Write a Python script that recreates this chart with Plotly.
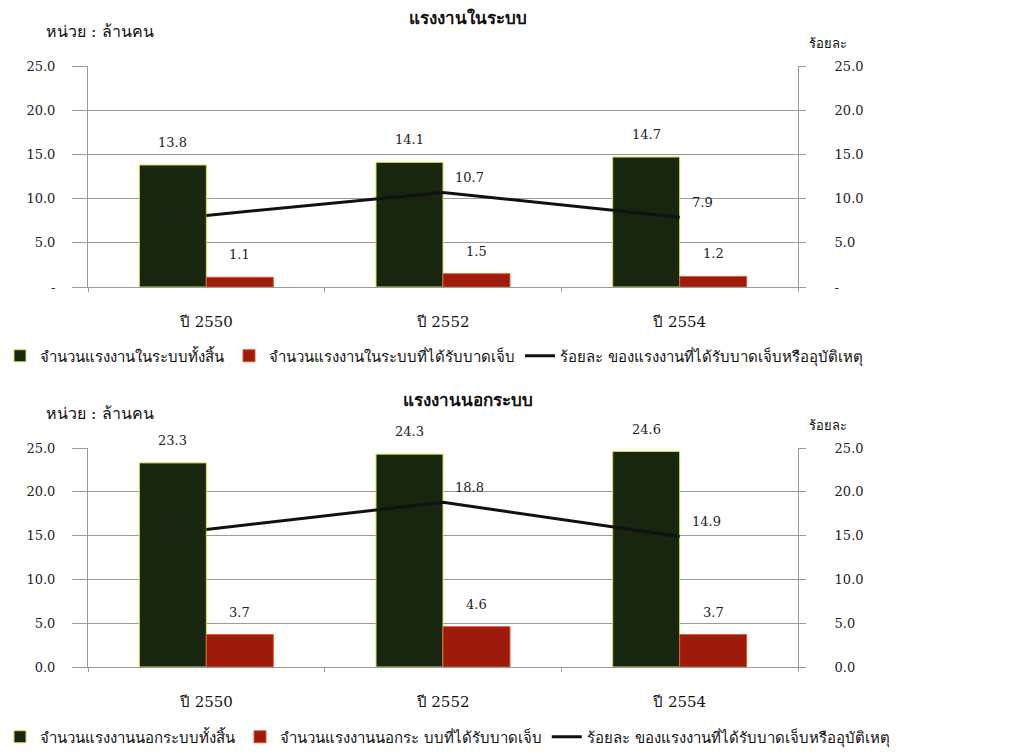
import plotly.graph_objects as go
from plotly.subplots import make_subplots

categories = ["ปี 2550", "ปี 2552", "ปี 2554"]

# Top chart: formal workers
top_title = "แรงงานในระบบ"
top_total = [13.8, 14.1, 14.7]
top_injured = [1.1, 1.5, 1.2]
top_pct = [8.1, 10.7, 7.9]
top_names = ["จำนวนแรงงานในระบบทั้งสิ้น", "จำนวนแรงงานในระบบที่ได้รับบาดเจ็บ",
             "ร้อยละ ของแรงงานที่ได้รับบาดเจ็บหรืออุบัติเหตุ"]
top_ticktext = ["-", "5.0", "10.0", "15.0", "20.0", "25.0"]

# Bottom chart: informal workers
bot_title = "แรงงานนอกระบบ"
bot_total = [23.3, 24.3, 24.6]
bot_injured = [3.7, 4.6, 3.7]
bot_pct = [15.7, 18.8, 14.9]
bot_names = ["จำนวนแรงงานนอกระบบทั้งสิ้น", "จำนวนแรงงานนอกระ บบที่ได้รับบาดเจ็บ",
             "ร้อยละ ของแรงงานที่ได้รับบาดเจ็บหรืออุบัติเหตุ"]
bot_ticktext = ["0.0", "5.0", "10.0", "15.0", "20.0", "25.0"]

tickvals = [0, 5, 10, 15, 20, 25]
unit_left = "หน่วย : ล้านคน"
unit_right = "ร้อยละ"

FONT = "DejaVu Serif, Liberation Serif, serif"
GREEN = "#18250f"
GREEN_EDGE = "#cfe04a"
RED = "#9e1a0b"
RED_EDGE = "#d9582c"
GRID = "#9a9a9a"
BARGAP = 0.434

fig = make_subplots(rows=2, cols=1, specs=[[{"secondary_y": True}], [{"secondary_y": True}]])

def add_chart(row, total, injured, pct, names, legend):
    fig.add_trace(go.Bar(x=categories, y=total, name=names[0], marker_color=GREEN,
                         marker_line=dict(color=GREEN_EDGE, width=1), legend=legend),
                  row=row, col=1, secondary_y=False)
    fig.add_trace(go.Bar(x=categories, y=injured, name=names[1], marker_color=RED,
                         marker_line=dict(color=RED_EDGE, width=1), legend=legend),
                  row=row, col=1, secondary_y=False)
    fig.add_trace(go.Scatter(x=categories, y=pct, name=names[2], mode="lines",
                             line=dict(color="#111111", width=3), legend=legend),
                  row=row, col=1, secondary_y=True)

add_chart(1, top_total, top_injured, top_pct, top_names, "legend")
add_chart(2, bot_total, bot_injured, bot_pct, bot_names, "legend2")

LBL = dict(family=FONT, size=13, color="#222222")
bw = (1 - BARGAP) / 2
annotations = []
for xref, yref, y2ref, total, injured, pct in [("x", "y", "y2", top_total, top_injured, top_pct),
                                               ("x2", "y3", "y4", bot_total, bot_injured, bot_pct)]:
    for i, (t, j, p) in enumerate(zip(total, injured, pct)):
        annotations.append(dict(x=i - bw / 2, y=t, xref=xref, yref=yref, text=f"{t:.1f}",
                                showarrow=False, yanchor="bottom", yshift=13, font=LBL))
        annotations.append(dict(x=i + bw / 2, y=j, xref=xref, yref=yref, text=f"{j:.1f}",
                                showarrow=False, yanchor="bottom", yshift=13, font=LBL))
        if i == 0:
            annotations.append(dict(x=i, y=p, xref=xref, yref=y2ref, text=f"{p:.1f}",
                                    showarrow=False, xanchor="right", yanchor="middle",
                                    xshift=-8, font=dict(family=FONT, size=13, color="#1d2a16")))
        else:
            annotations.append(dict(x=i, y=p, xref=xref, yref=y2ref, text=f"{p:.1f}",
                                    showarrow=False, xanchor="left", yanchor="middle",
                                    xshift=10, yshift=15, font=LBL))

H = 754.0
def py(pix):
    return 1 - pix / H

for title, ty, uy, ry in [(top_title, 18, 32, 44), (bot_title, 400, 413, 425)]:
    annotations.append(dict(x=468 / 1019, y=py(ty), xref="paper", yref="paper", text=f"<b>{title}</b>",
                            showarrow=False, xanchor="center", yanchor="middle",
                            font=dict(family=FONT, size=17, color="#111111")))
    annotations.append(dict(x=44 / 1019, y=py(uy), xref="paper", yref="paper", text=unit_left,
                            showarrow=False, xanchor="left", yanchor="middle",
                            font=dict(family=FONT, size=16, color="#111111")))
    annotations.append(dict(x=807 / 1019, y=py(ry), xref="paper", yref="paper", text=unit_right,
                            showarrow=False, xanchor="left", yanchor="middle",
                            font=dict(family=FONT, size=13, color="#111111")))

xdom = [88 / 1019, 798 / 1019]
top_dom = [py(287), py(66)]
bot_dom = [py(667), py(448)]

LEGFONT = dict(family=FONT, size=15, color="#111111")
fig.update_layout(
    width=1019, height=754,
    margin=dict(l=0, r=0, t=0, b=0, autoexpand=False),
    paper_bgcolor="white", plot_bgcolor="white",
    barmode="group", bargap=BARGAP, bargroupgap=0,
    font=dict(family=FONT, size=13, color="#222222"),
    annotations=annotations,
    legend=dict(orientation="h", x=0, y=py(356), xanchor="left", yanchor="middle",
                font=LEGFONT, itemwidth=30, bgcolor="rgba(0,0,0,0)", traceorder="normal"),
    legend2=dict(orientation="h", x=0, y=py(737), xanchor="left", yanchor="middle",
                 font=LEGFONT, itemwidth=30, bgcolor="rgba(0,0,0,0)", traceorder="normal"),
    showlegend=True,
)

for xa, dom in [("xaxis", top_dom), ("xaxis2", bot_dom)]:
    fig.layout[xa].update(domain=xdom, showline=True, linecolor=GRID, linewidth=1,
                          ticks="outside", tickson="boundaries", ticklen=4, tickcolor=GRID,
                          ticklabelstandoff=21, tickfont=dict(family=FONT, size=15, color="#111111"))

for ya, yref_dom, tt in [("yaxis", top_dom, top_ticktext), ("yaxis3", bot_dom, bot_ticktext)]:
    fig.layout[ya].update(domain=yref_dom, range=[0, 25], tickvals=tickvals, ticktext=tt,
                          showgrid=True, gridcolor=GRID, gridwidth=1, zeroline=False,
                          showline=True, linecolor=GRID, ticks="outside", ticklen=15, tickcolor=GRID,
                          ticklabelstandoff=14, tickfont=dict(family=FONT, size=13, color="#222222"))

for ya, yref_dom, tt in [("yaxis2", top_dom, top_ticktext), ("yaxis4", bot_dom, bot_ticktext)]:
    fig.layout[ya].update(domain=yref_dom, range=[0, 25], tickvals=tickvals, ticktext=tt,
                          showgrid=False, zeroline=False,
                          showline=True, linecolor=GRID, ticks="outside", ticklen=7, tickcolor=GRID,
                          ticklabelstandoff=26, tickfont=dict(family=FONT, size=13, color="#222222"))

fig.write_html("out.html", post_script="document.body.style.margin='0';",
               config={"displayModeBar": False})
